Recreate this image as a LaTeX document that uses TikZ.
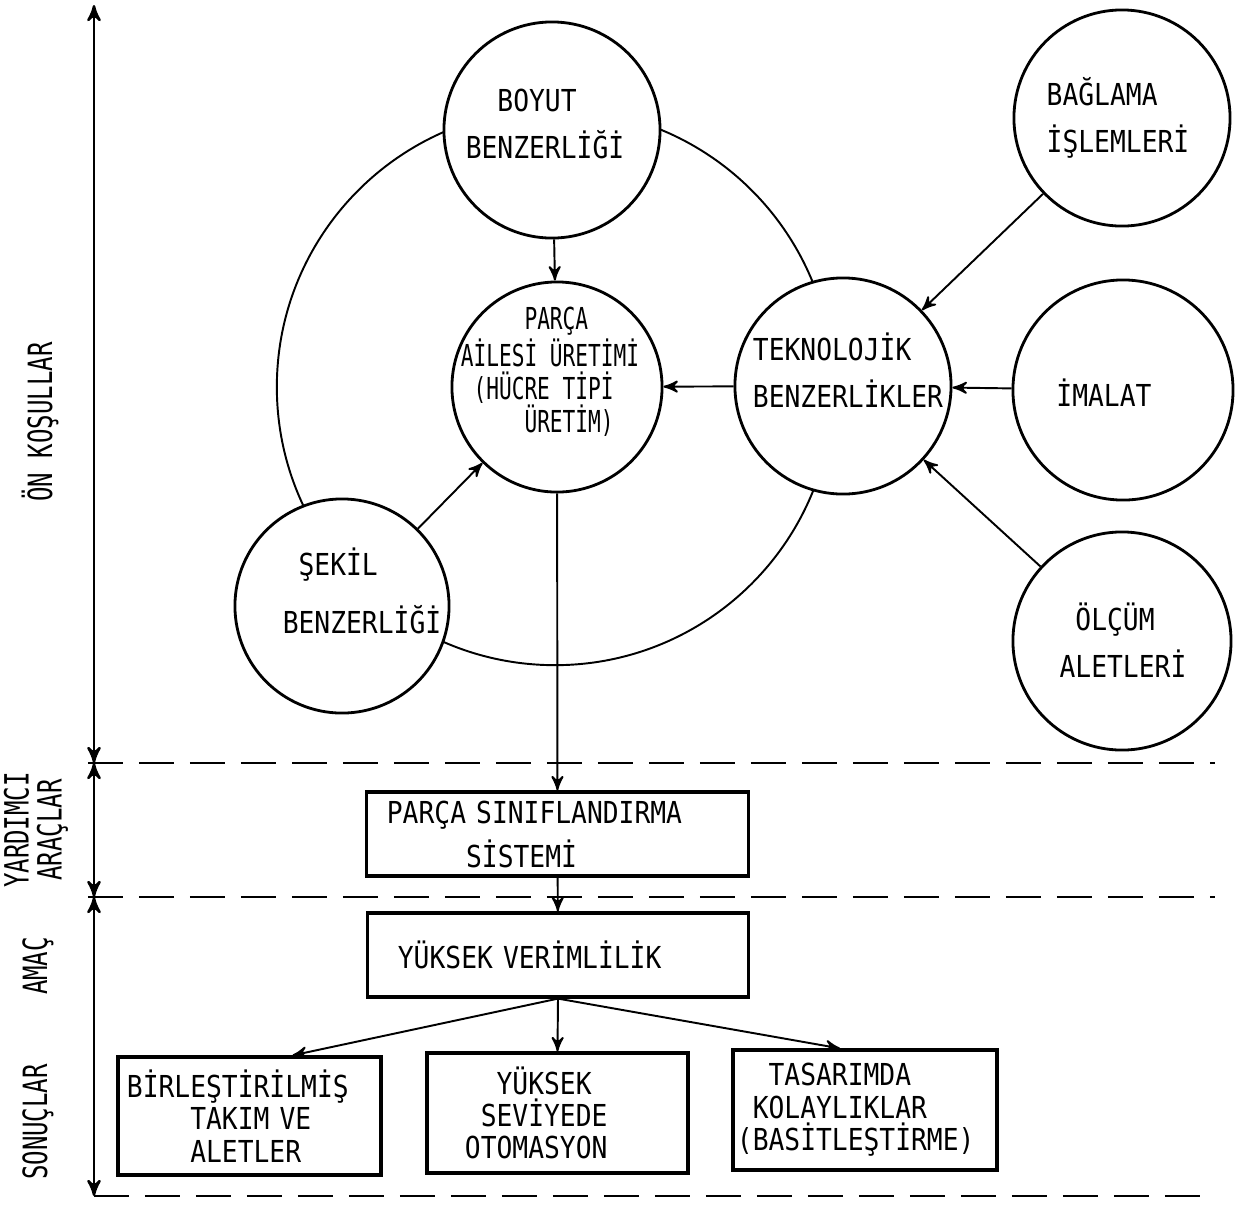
\documentclass[tikz,border=0pt]{standalone}
\usepackage{fontspec}
\setmainfont{DejaVu Sans Mono}[FakeStretch=0.87]
\newfontfamily\narrowfont{DejaVu Sans Mono}[FakeStretch=0.70]
\newfontfamily\sidefont{DejaVu Sans Mono}[FakeStretch=0.72]
\usepackage{tikz}
\usetikzlibrary{arrows}

\begin{document}
\begin{tikzpicture}[x=0.01cm,y=-0.01cm,>=stealth',semithick,font=\fontsize{8.6pt}{13.4pt}\selectfont]
 \tikzstyle{disc}=[draw, circle, line width=0.8pt, fill=white, minimum size=2.16cm, inner sep=0pt]
 \tikzstyle{txt}=[align=left, inner sep=0pt]
 \tikzstyle{box}=[draw, rectangle, line width=0.9pt, align=left, inner ysep=0pt, font=\fontsize{8.6pt}{9.2pt}\selectfont]
 \tikzstyle{sep}=[line width=0.6pt, dash pattern=on 10pt off 4.5pt]
 \tikzstyle{side}=[rotate=90, align=center, inner sep=0pt, font=\sidefont\fontsize{9.5pt}{9.4pt}\selectfont]

 \useasboundingbox (0,0) rectangle (1238,1205);

 % ring behind the circles
 \draw[line width=0.55pt] (555,387) circle (2.78cm);

 \node[disc] (B) at (552,130) {};
 \node[disc, minimum size=2.1cm] (P) at (557,387) {};
 \node[disc] (T) at (843,386) {};
 \node[disc] (G) at (1122,118) {};
 \node[disc, minimum size=2.2cm] (I) at (1123,390) {};
 \node[disc, minimum size=2.18cm] (O) at (1122,641) {};
 \node[disc, minimum size=2.14cm] (S) at (342,606) {};

 \node[txt] (Bt) at (545,124) {\phantom{XX}BOYUT\\BENZERLİĞİ};
 \node[txt, font=\narrowfont\fontsize{8.6pt}{9.4pt}\selectfont] (Pt) at (550,372)
   {\phantom{XXXXX}PARÇA\\AİLESİ ÜRETİMİ\\\phantom{X}(HÜCRE TİPİ\\\phantom{XXXXX}ÜRETİM)};
 \node[txt] (Tt) at (848,370) {TEKNOLOJİK\\BENZERLİKLER};
 \node[txt] (Gt) at (1118,118) {BAĞLAMA\\İŞLEMLERİ};
 \node[txt] (It) at (1104,393) {İMALAT};
 \node[txt] (Ot) at (1123,640) {\phantom{X}ÖLÇÜM\\ALETLERİ};
 \node[txt] (St) at (362,591) {\phantom{X}ŞEKİL\\[3pt]BENZERLİĞİ};

 \node[box, text width=3.41cm, inner xsep=0.2cm, minimum height=0.84cm] (K1) at (557.5,834)
   {PARÇA SINIFLANDIRMA\\[2pt]\phantom{XXXXX}SİSTEMİ};
 \node[box, text width=3.2cm, inner xsep=0.3cm, minimum height=0.84cm] (K2) at (558,955)
   {YÜKSEK VERİMLİLİK};
 \node[box, text width=2.45cm, inner xsep=0.09cm, minimum height=1.18cm] (R1) at (249.5,1116)
   {BİRLEŞTİRİLMİŞ\\\phantom{XXXX}TAKIM VE\\\phantom{XXXX}ALETLER};
 \node[box, text width=1.85cm, inner xsep=0.38cm, minimum height=1.2cm] (R2) at (557.5,1113)
   {\phantom{XX}YÜKSEK\\\phantom{X}SEVİYEDE\\OTOMASYON};
 \node[box, text width=2.56cm, inner xsep=0.04cm, minimum height=1.2cm] (R3) at (865,1110)
   {\phantom{XX}TASARIMDA\\\phantom{X}KOLAYLIKLAR\\(BASİTLEŞTİRME)};

 \path[->, line width=0.55pt]
  (B) edge (P)
  (T) edge (P)
  (I) edge (T)
  (G) edge (T)
  (O) edge (T)
  (S) edge (P)
  (P) edge (K1)
  (K1) edge (K2)
  (K2.south) edge ([xshift=0.43cm]R1.north)
  (K2.south) edge (R2.north)
  (K2.south) edge ([xshift=-0.25cm]R3.north);

 % left scale
 \coordinate (a0) at (94,5);
 \coordinate (a1) at (94,763);
 \coordinate (a2) at (94,897);
 \coordinate (a3) at (94,1196);
 \coordinate (e1) at (1215,763);
 \coordinate (e2) at (1215,897);
 \coordinate (e3) at (1215,1196);
 \draw[<->, line width=0.7pt] (a0) -- (a1);
 \draw[<->, line width=0.7pt] (a1) -- (a2);
 \draw[<->, line width=0.7pt] (a2) -- (a3);
 \draw[sep] ([xshift=-0.06cm]a1) -- (e1);
 \draw[sep] ([xshift=-0.06cm]a2) -- (e2);
 \draw[sep] (a3) -- (e3);

 \node[side] (L1) at (40,422) {ÖN KOŞULLAR};
 \node[side] (L2) at (36,830) {YARDIMCI\\ARAÇLAR};
 \node[side] (L3) at (38,966) {AMAÇ};
 \node[side] (L4) at (38,1122) {SONUÇLAR};
\end{tikzpicture}
\end{document}
